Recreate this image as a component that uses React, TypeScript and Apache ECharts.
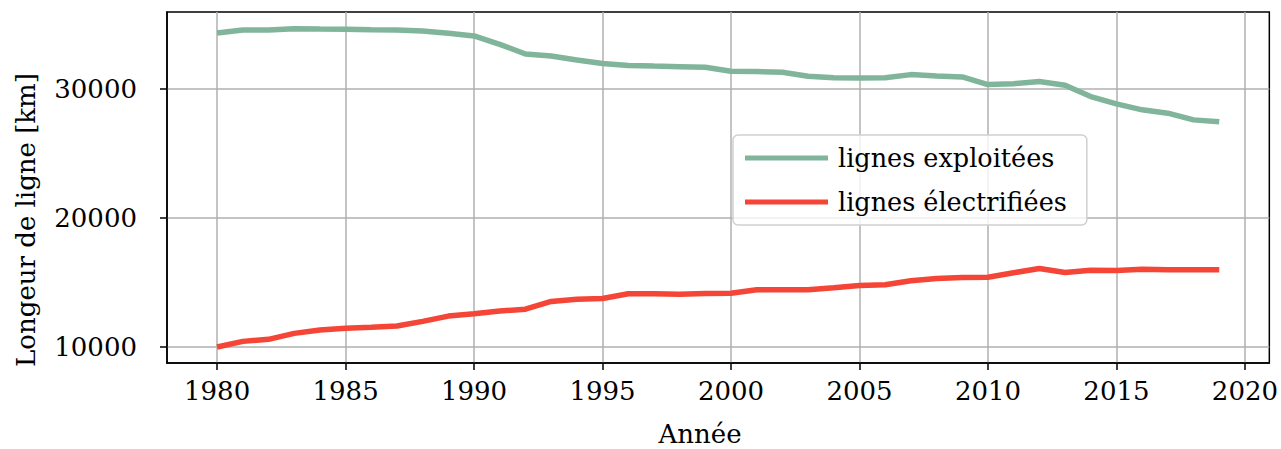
import React, { useEffect, useRef } from "react";
import * as echarts from "echarts";

const years = [
  1980, 1981, 1982, 1983, 1984, 1985, 1986, 1987, 1988, 1989,
  1990, 1991, 1992, 1993, 1994, 1995, 1996, 1997, 1998, 1999,
  2000, 2001, 2002, 2003, 2004, 2005, 2006, 2007, 2008, 2009,
  2010, 2011, 2012, 2013, 2014, 2015, 2016, 2017, 2018, 2019,
];

const lignesExploitees = [
  34360, 34590, 34600, 34690, 34660, 34650, 34610, 34600, 34520, 34340,
  34130, 33480, 32730, 32580, 32270, 32000, 31840, 31790, 31750, 31700,
  31390, 31370, 31320, 31010, 30880, 30870, 30880, 31130, 31030, 30950,
  30360, 30430, 30590, 30310, 29430, 28860, 28400, 28140, 27620, 27470,
];

const lignesElectrifiees = [
  10000, 10440, 10600, 11060, 11320, 11450, 11530, 11630, 11990, 12400,
  12580, 12790, 12940, 13540, 13700, 13760, 14130, 14130, 14100, 14150,
  14180, 14440, 14440, 14440, 14600, 14770, 14830, 15140, 15320, 15400,
  15420, 15760, 16090, 15780, 15960, 15940, 16040, 15990, 15990, 15990,
];

const xTicks = [1980, 1985, 1990, 1995, 2000, 2005, 2010, 2015, 2020];
const yTicks = [10000, 20000, 30000];

const seriesNames = ["lignes exploitées", "lignes électrifiées"];
const seriesColors = ["#80b59b", "#f44536"];

const FONT = "DejaVu Serif";

export default function App() {
  const ref = useRef<HTMLDivElement>(null);

  useEffect(() => {
    if (!ref.current) return;
    const chart = echarts.init(ref.current, null, { renderer: "svg" });
    const textStyle = { fontFamily: FONT, fontSize: 26, color: "#000" };
    chart.setOption({
      animation: false,
      backgroundColor: "#fff",
      textStyle: { fontFamily: FONT },
      grid: {
        left: 167,
        top: 12,
        right: 8,
        bottom: 86,
        show: true,
        borderColor: "#000",
        borderWidth: 1.5,
        backgroundColor: "transparent",
      },
      xAxis: {
        type: "value",
        min: 1978.05,
        max: 2020.95,
        axisLine: { show: true, onZero: false, lineStyle: { color: "#000", width: 1.5 } },
        axisTick: {
          show: true,
          length: 7,
          customValues: xTicks,
          lineStyle: { color: "#000", width: 1.5 },
        },
        axisLabel: {
          ...textStyle,
          customValues: xTicks,
          margin: 15,
          formatter: (v: number) => String(v),
        },
        splitLine: { show: true, lineStyle: { color: "#b0b0b0", width: 1.5 } },
      },
      yAxis: {
        type: "value",
        min: 8763,
        max: 35987,
        axisLine: { show: true, lineStyle: { color: "#000", width: 1.5 } },
        axisTick: {
          show: true,
          length: 7,
          customValues: yTicks,
          lineStyle: { color: "#000", width: 1.5 },
        },
        axisLabel: {
          ...textStyle,
          customValues: yTicks,
          margin: 30,
          formatter: (v: number) => String(v),
        },
        splitLine: { show: true, lineStyle: { color: "#b0b0b0", width: 1.5 } },
      },
      legend: {
        orient: "vertical",
        left: 733,
        top: 135,
        padding: [10, 20, 10, 12],
        itemGap: 18,
        itemWidth: 83,
        itemHeight: 5,
        icon: "rect",
        backgroundColor: "rgba(255,255,255,0.8)",
        borderColor: "#d0d0d0",
        borderWidth: 1.5,
        borderRadius: 5,
        textStyle: { fontFamily: FONT, fontSize: 25.5, color: "#000", padding: [0, 0, 0, 5] },
        data: seriesNames,
      },
      series: [
        {
          name: seriesNames[0],
          type: "line",
          showSymbol: false,
          symbol: "none",
          color: seriesColors[0],
          lineStyle: { width: 5.5, color: seriesColors[0] },
          data: years.map((y, i) => [y, lignesExploitees[i]]),
        },
        {
          name: seriesNames[1],
          type: "line",
          showSymbol: false,
          symbol: "none",
          color: seriesColors[1],
          lineStyle: { width: 5.5, color: seriesColors[1] },
          data: years.map((y, i) => [y, lignesElectrifiees[i]]),
        },
      ],
      graphic: [
        {
          type: "text",
          x: 26,
          y: 220,
          rotation: Math.PI / 2,
          style: {
            text: "Longeur de ligne [km]",
            fontFamily: FONT,
            fontSize: 26,
            fill: "#000",
            align: "center",
            verticalAlign: "middle",
          },
        },
        {
          type: "text",
          x: 700,
          y: 434,
          style: {
            text: "Année",
            fontFamily: FONT,
            fontSize: 26,
            fill: "#000",
            align: "center",
            verticalAlign: "middle",
          },
        },
      ],
    });
    return () => chart.dispose();
  }, []);

  return (
    <div
      ref={ref}
      style={{ position: "absolute", left: 0, top: 0, width: 1281, height: 449 }}
    />
  );
}
